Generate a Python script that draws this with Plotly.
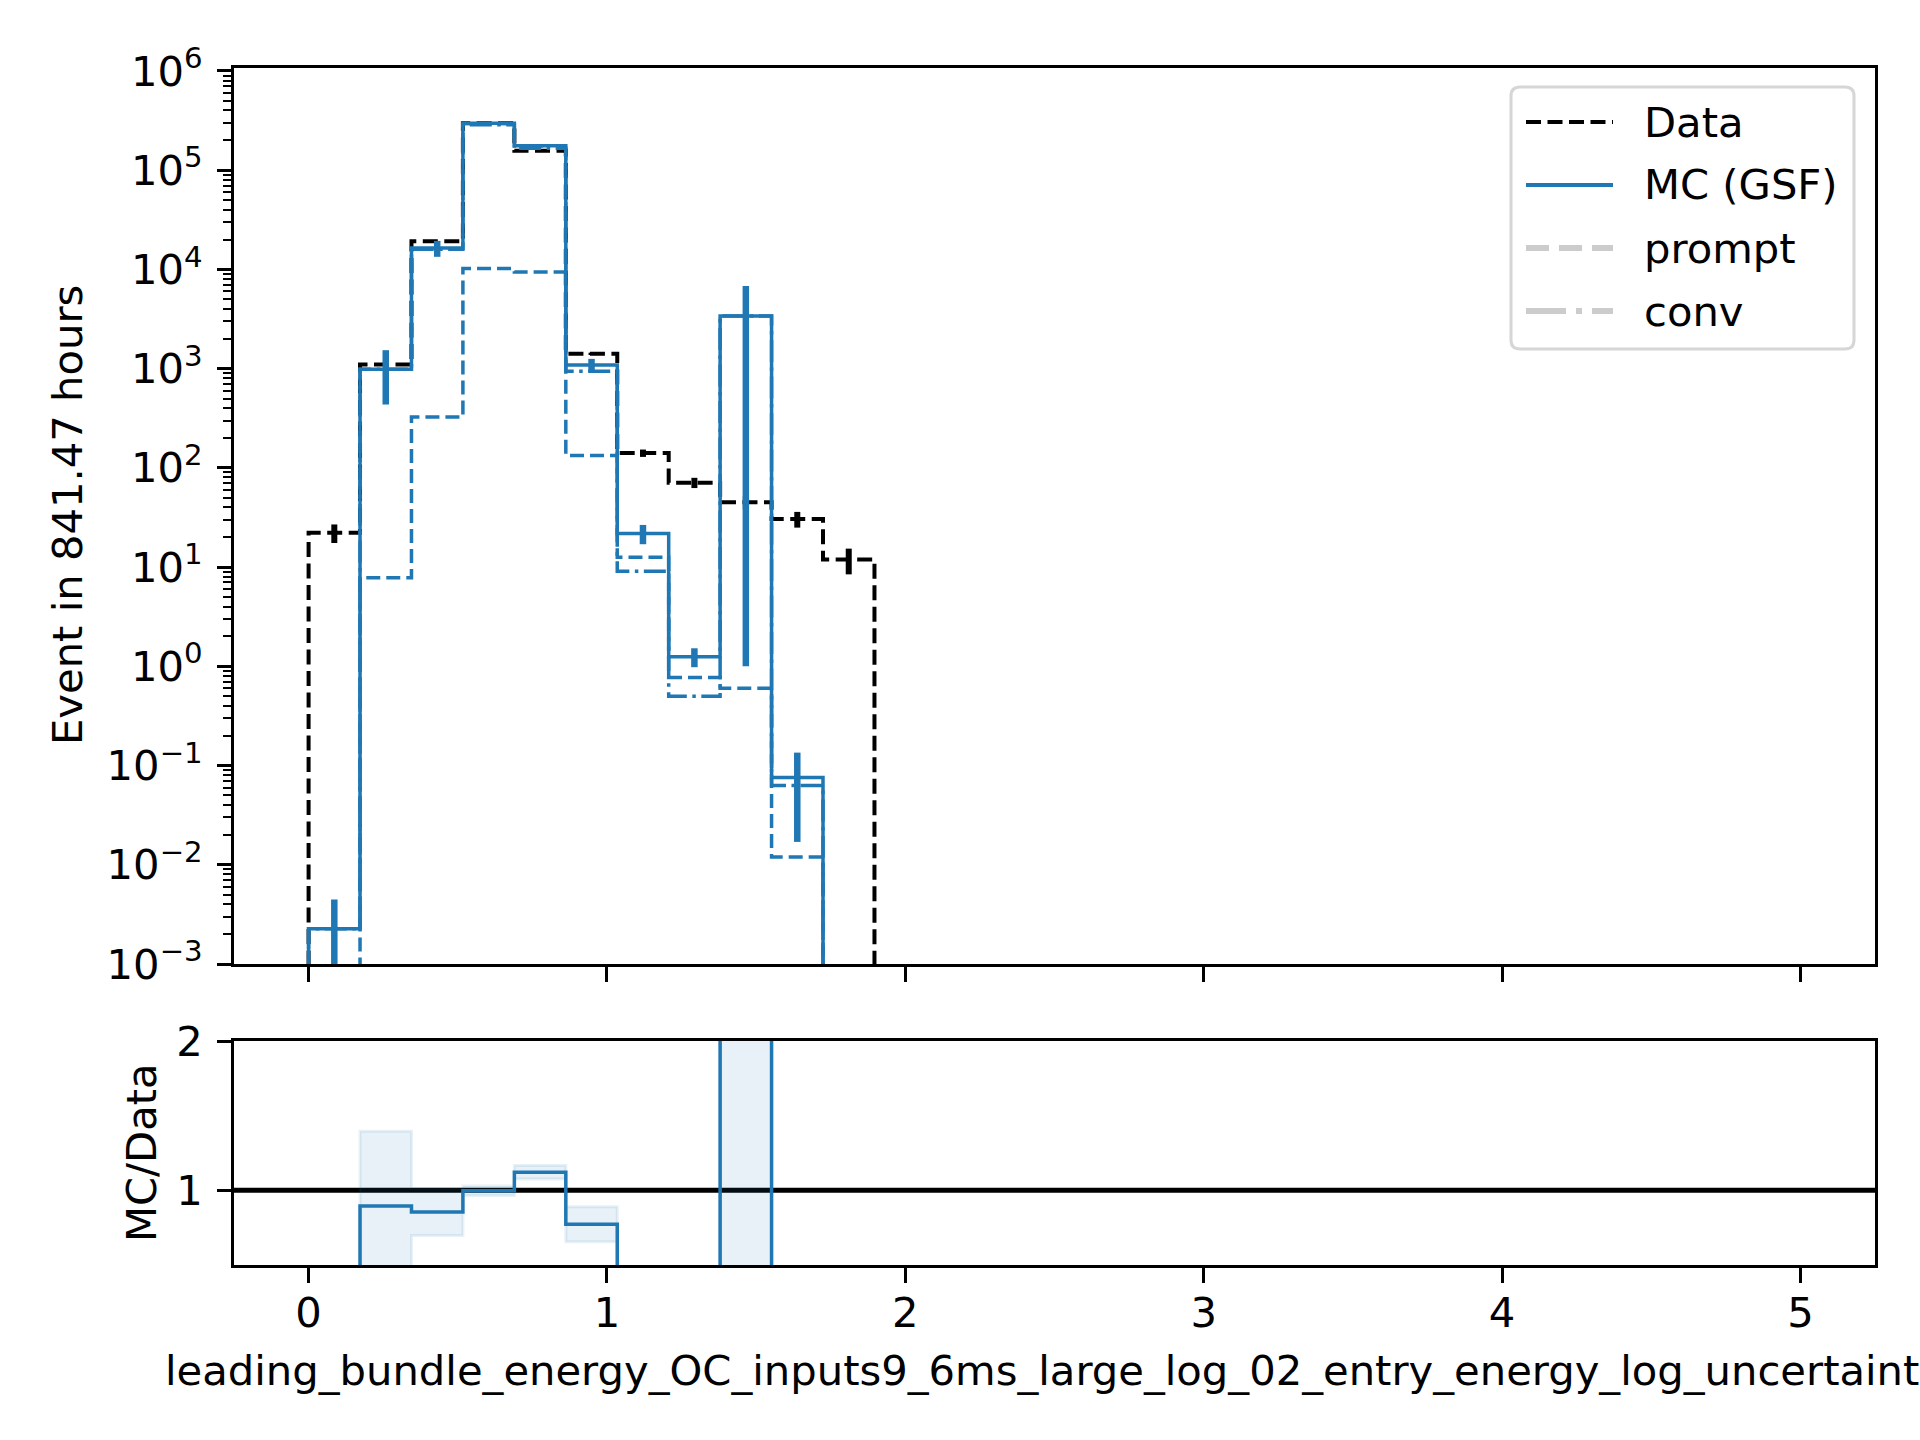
import numpy as np
import plotly.graph_objects as go

# histogram binning (bins 11.. are empty in every sample and are left out)
BIN_EDGES = [0.0, 0.1724, 0.3448, 0.5172, 0.6897, 0.8621, 1.0345,
             1.2069, 1.3793, 1.5517, 1.7241, 1.8966]

# events per bin
DATA = [22.2, 1100, 19200, 298000, 157000, 1410, 141, 71, 45, 30.5, 11.9]
DATA_ERR = [4.7, 33, 140, 550, 400, 38, 12, 8.4, 6.7, 5.5, 3.45]
MC = [0.00226, 985, 16400, 297000, 176000, 1090, 21.8, 1.25, 3400, 0.076, 0]
MC_ERR = [0.0022, 550, 3000, 9500, 7100, 165, 4.8, 0.27, 3399, 0.059, 0]
PROMPT = [0, 7.8, 326, 10200, 9420, 133, 12.6, 0.77, 0.6, 0.012, 0]
CONV = [0.00226, 985, 16000, 287000, 166000, 940, 9.1, 0.5, 3400, 0.063, 0]

X_TICKS = [0, 1, 2, 3, 4, 5]
Y_TICKS = [1e-3, 1e-2, 1e-1, 1e0, 1e1, 1e2, 1e3, 1e4, 1e5, 1e6]
Y_TICK_TEXT = ["10<sup>−3</sup>", "10<sup>−2</sup>", "10<sup>−1</sup>", "10<sup>0</sup>",
               "10<sup>1</sup>", "10<sup>2</sup>", "10<sup>3</sup>", "10<sup>4</sup>",
               "10<sup>5</sup>", "10<sup>6</sup>"]
LEGEND_LABELS = ["Data", "MC (GSF)", "prompt", "conv"]

BLUE = "#1f77b4"
GREY = "#cccccc"
FONT = "DejaVu Sans"
FS = 41.7
W, H = 1920, 1440
FLOOR = 1e-8  # stand-in for empty bins on the log axis

edges = np.array(BIN_EDGES)
centers = 0.5 * (edges[:-1] + edges[1:])


def step(values, floor=FLOOR):
    # outline like matplotlib histtype="step"
    vals = [v if v > 0 else floor for v in values]
    xs = [edges[0]] + list(edges)
    ys = [floor] + vals + [floor]
    return xs, ys


def px_x(p):
    return p / W


def px_y(p):
    return 1 - p / H


fig = go.Figure()

# ---- main panel ----
xs, ys = step(DATA)
fig.add_trace(go.Scatter(x=xs, y=ys, mode="lines", line_shape="hv",
                         line=dict(color="black", width=4, dash="15px,6.5px"),
                         xaxis="x", yaxis="y", showlegend=False))
fig.add_trace(go.Scatter(x=centers, y=DATA, mode="markers", marker=dict(size=1, color="rgba(0,0,0,0)"),
                         error_y=dict(type="data", array=DATA_ERR, color="black",
                                      thickness=6, width=0),
                         xaxis="x", yaxis="y", showlegend=False))
xs, ys = step(MC)
fig.add_trace(go.Scatter(x=xs, y=ys, mode="lines", line_shape="hv",
                         line=dict(color=BLUE, width=3.5),
                         xaxis="x", yaxis="y", showlegend=False))
xs, ys = step(PROMPT)
fig.add_trace(go.Scatter(x=xs, y=ys, mode="lines", line_shape="hv",
                         line=dict(color=BLUE, width=3.5, dash="14px,6px"),
                         xaxis="x", yaxis="y", showlegend=False))
xs, ys = step(CONV)
fig.add_trace(go.Scatter(x=xs, y=ys, mode="lines", line_shape="hv",
                         line=dict(color=BLUE, width=3.5, dash="22px,5.5px,3.5px,5.5px"),
                         xaxis="x", yaxis="y", showlegend=False))
mc_pts = [v if v > 0 else None for v in MC]
fig.add_trace(go.Scatter(x=centers, y=mc_pts, mode="markers", marker=dict(size=1, color="rgba(0,0,0,0)"),
                         error_y=dict(type="data", array=MC_ERR, color=BLUE,
                                      thickness=6.5, width=0),
                         xaxis="x", yaxis="y", showlegend=False))

# ---- ratio panel ----
data = np.array(DATA, dtype=float)
mc = np.array(MC, dtype=float)
mc_err = np.array(MC_ERR, dtype=float)
ratio = mc / data
lo = (mc - mc_err) / data
hi = (mc + mc_err) / data

band_x = []
band_y = []
for i in range(len(ratio)):
    band_x += [edges[i], edges[i + 1]]
    band_y += [hi[i], hi[i]]
for i in reversed(range(len(ratio))):
    band_x += [edges[i + 1], edges[i]]
    band_y += [lo[i], lo[i]]
fig.add_trace(go.Scatter(x=band_x, y=band_y, mode="lines", fill="toself",
                         fillcolor="rgba(31,119,180,0.1)",
                         line=dict(color="rgba(31,119,180,0.1)", width=3),
                         xaxis="x2", yaxis="y2", showlegend=False))
fig.add_trace(go.Scatter(x=list(edges), y=list(ratio) + [ratio[-1]], mode="lines",
                         line_shape="hv", line=dict(color=BLUE, width=3.5),
                         xaxis="x2", yaxis="y2", showlegend=False))

fig.add_shape(type="line", xref="x2 domain", yref="y2", x0=0, x1=1, y0=1, y1=1,
              line=dict(color="black", width=5), layer="below")

# ---- legend (drawn by hand to get matplotlib-like keys) ----
bx0, bx1, by0, by1, r = 1511, 1854, 87, 349, 9
path = (f"M {px_x(bx0 + r)},{px_y(by0)} L {px_x(bx1 - r)},{px_y(by0)} "
        f"Q {px_x(bx1)},{px_y(by0)} {px_x(bx1)},{px_y(by0 + r)} "
        f"L {px_x(bx1)},{px_y(by1 - r)} Q {px_x(bx1)},{px_y(by1)} {px_x(bx1 - r)},{px_y(by1)} "
        f"L {px_x(bx0 + r)},{px_y(by1)} Q {px_x(bx0)},{px_y(by1)} {px_x(bx0)},{px_y(by1 - r)} "
        f"L {px_x(bx0)},{px_y(by0 + r)} Q {px_x(bx0)},{px_y(by0)} {px_x(bx0 + r)},{px_y(by0)} Z")
fig.add_shape(type="path", xref="paper", yref="paper", path=path,
              fillcolor="rgba(255,255,255,0.8)", line=dict(color="#d6d6d6", width=3))

legend_rows = [122, 185, 248, 311]
legend_styles = [dict(color="black", width=4, dash="15px,6.5px"),
                 dict(color=BLUE, width=4),
                 dict(color=GREY, width=6.2, dash="23px,10px"),
                 dict(color=GREY, width=6.2, dash="40px,10px,6px,10px")]
for row, style, label in zip(legend_rows, legend_styles, LEGEND_LABELS):
    fig.add_shape(type="line", xref="paper", yref="paper",
                  x0=px_x(1526), x1=px_x(1613), y0=px_y(row), y1=px_y(row), line=style)
    fig.add_annotation(x=px_x(1642), y=px_y(row), xref="paper", yref="paper",
                       text=label, showarrow=False, xanchor="left", yanchor="middle",
                       font=dict(family=FONT, size=FS, color="black"))

# ---- axis titles ----
fig.add_annotation(x=px_x(68), y=px_y(515), xref="paper", yref="paper",
                   text="Event in 841.47 hours", textangle=-90, showarrow=False,
                   xanchor="center", yanchor="middle",
                   font=dict(family=FONT, size=FS, color="black"))
fig.add_annotation(x=px_x(141), y=px_y(1153), xref="paper", yref="paper",
                   text="MC/Data", textangle=-90, showarrow=False,
                   xanchor="center", yanchor="middle",
                   font=dict(family=FONT, size=FS, color="black"))
fig.add_annotation(x=px_x(1054), y=px_y(1370), xref="paper", yref="paper",
                   text="leading_bundle_energy_OC_inputs9_6ms_large_log_02_entry_energy_log_uncertainty",
                   showarrow=False, xanchor="center", yanchor="middle",
                   font=dict(family=FONT, size=FS, color="black"))

axis_common = dict(showline=True, linewidth=3, linecolor="black", mirror=True,
                   showgrid=False, zeroline=False, ticks="outside", tickwidth=3,
                   tickcolor="black", automargin=False,
                   tickfont=dict(family=FONT, size=FS, color="black"))
x_dom = [px_x(234), px_x(1875)]

fig.update_layout(
    template="none",
    width=W, height=H,
    margin=dict(l=0, r=0, t=0, b=0),
    paper_bgcolor="white", plot_bgcolor="white",
    showlegend=False,
    font=dict(family=FONT, size=FS, color="black"),
    xaxis=dict(domain=x_dom, anchor="y", range=[-0.25, 5.25], tickvals=X_TICKS,
               showticklabels=False, ticklen=15, **axis_common),
    yaxis=dict(domain=[px_y(964), px_y(68)], anchor="x", type="log", range=[-3, 6.03],
               tickvals=Y_TICKS, ticktext=Y_TICK_TEXT, ticklen=14, ticklabelstandoff=6,
               minor=dict(ticks="outside", ticklen=8, tickwidth=2, tickcolor="black",
                          tickvals=[m * 10.0 ** k for k in range(-3, 6) for m in range(2, 10)]),
               **axis_common),
    xaxis2=dict(domain=x_dom, anchor="y2", matches="x", range=[-0.25, 5.25], tickvals=X_TICKS,
                ticklen=15, ticklabelstandoff=-6, **axis_common),
    yaxis2=dict(domain=[px_y(1265), px_y(1041)], anchor="x2", range=[0.5, 2],
                tickvals=[1, 2], ticklen=14, ticklabelstandoff=6, **axis_common),
)

# the page body has a default 8px margin; drop it so the figure sits at the corner
fig.write_html("out.html", config={"displayModeBar": False},
               post_script="document.body.style.margin = '0';")
